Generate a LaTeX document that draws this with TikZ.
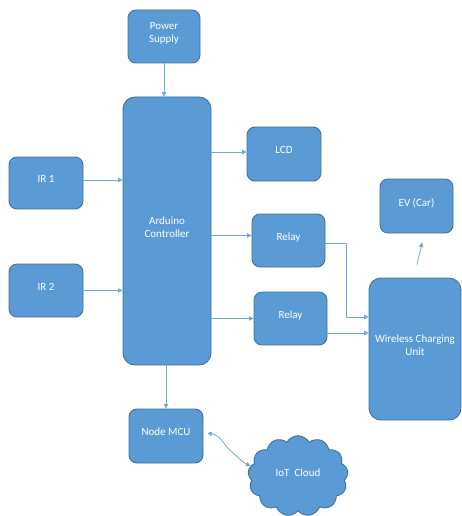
\documentclass[tikz,border=0pt]{standalone}
\usepackage{fontspec}
\setmainfont{Carlito}
\usetikzlibrary{arrows.meta, positioning, shapes.symbols}
\definecolor{blkfill}{HTML}{5B9BD5}
\definecolor{blkedge}{HTML}{41719C}
\definecolor{wirecol}{HTML}{6FA8DC}

\begin{document}
\begin{tikzpicture}[
  x=1pt, y=-1pt,
  block/.style={rectangle, rounded corners=8pt, draw=blkedge, fill=blkfill, line width=0.9pt, text=white, font=\fontsize{11}{13.5}\selectfont, align=center, text depth=8pt},
  wire/.style={draw=wirecol, line width=0.8pt, -{Triangle[length=4.5pt, width=4.5pt]}},
]
\useasboundingbox (0,0) rectangle (462,516);

% blocks
\node[block, minimum width=72pt, minimum height=53pt] (power) at (164,36.5) {Power\\Supply};
\node[block, rounded corners=12pt, minimum width=88pt, minimum height=268pt] (arduino) at (167,231) {Arduino\\Controller};
\node[block, minimum width=74pt, minimum height=52pt] (ir1) at (46,183) {IR 1};
\node[block, minimum width=74pt, minimum height=53pt] (ir2) at (46,290.5) {IR 2};
\node[block, minimum width=74pt, minimum height=54pt] (lcd) at (284,154) {LCD};
\node[block, minimum width=73pt, minimum height=53pt] (relay1) at (288.5,240.5) {Relay};
\node[block, minimum width=73pt, minimum height=53pt] (relay2) at (290.5,318.5) {Relay};
\node[block, minimum width=73pt, minimum height=54pt] (ev) at (416.5,206) {EV (Car)};
\node[block, rounded corners=12pt, minimum width=92pt, minimum height=142pt] (wcu) at (415,349) {Wireless Charging\\Unit};
\node[block, minimum width=74pt, minimum height=54pt] (mcu) at (166,436) {Node MCU};
\node[cloud, cloud puffs=13, cloud puff arc=120, draw=blkedge, fill=blkfill, line width=0.9pt, text=white,
      font=\fontsize{11}{13.5}\selectfont, minimum width=100pt, minimum height=78pt, text depth=6pt] (iot) at (298,476) {IoT~~Cloud};

% connectors
\draw[wire] (power.south) -- (power.south|-arduino.north);
\draw[wire] ([yshift=3]ir1.east) -- ([yshift=3]ir1.east-|arduino.west);
\draw[wire] (ir2.east) -- (ir2.east-|arduino.west);
\draw[wire] ([yshift=2]lcd.west-|arduino.east) -- ([yshift=2]lcd.west);
\draw[wire] ([yshift=5]relay1.west-|arduino.east) -- ([yshift=5]relay1.west);
\draw[wire] (relay2.west-|arduino.east) -- (relay2.west);
\draw[wire] ([yshift=-2.5]relay1.east) -- ++(21,0) |- ([yshift=32]wcu.west);
\draw[wire] ([yshift=-14.5]relay2.east) -- ([yshift=-14.5]relay2.east-|wcu.west);
\draw[wire] (mcu.north|-arduino.south) -- (mcu.north);
\draw[wire] ([shift={(2,-13)}]wcu.north) to[out=80, in=-100] ([shift={(5.5,9)}]ev.south);
\draw[wirecol, line width=0.8pt, {Triangle[length=4.5pt, width=4.5pt]}-{Triangle[length=4.5pt, width=4.5pt]}]
  ([shift={(4,-3)}]mcu.east) .. controls (222,436) and (224,446) .. (232,452)
  .. controls (238,457) and (242,462) .. (iot.168);
\end{tikzpicture}
\end{document}
